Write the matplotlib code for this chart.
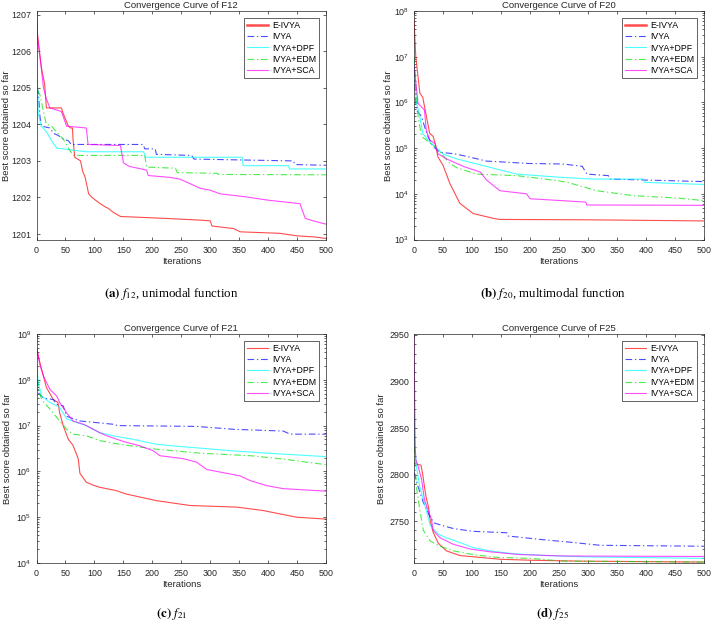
import matplotlib as mpl
import matplotlib.pyplot as plt
import matplotlib.ticker as mticker
import numpy as np


methods = ['E-IVYA', 'IVYA', 'IVYA+DPF', 'IVYA+EDM', 'IVYA+SCA']
colors = ['#ff0000', '#0000ff', '#00ffff', '#00e600', '#ff00ff']
styles = ['-', '-.', '-', '-.', '-']

titles = ['Convergence Curve of F12', 'Convergence Curve of F20',
          'Convergence Curve of F21', 'Convergence Curve of F25']
captions = [r'$\mathbf{(a)}$ $f_{12}$, unimodal function',
            r'$\mathbf{(b)}$ $f_{20}$, multimodal function',
            r'$\mathbf{(c)}$ $f_{21}$',
            r'$\mathbf{(d)}$ $f_{25}$']
xticks = [0, 50, 100, 150, 200, 250, 300, 350, 400, 450, 500]

# ---- F12 (linear) : iteration, best score
f12_eivya_x = [0, 2, 3, 6, 9, 14, 17, 43, 46, 55, 59, 62, 63, 66, 76, 80, 84, 90, 96, 104, 110, 118,
               124, 132, 145, 219, 283, 300, 303, 340, 352, 420, 450, 480, 500]
f12_eivya_y = [1207.1, 1206.4, 1206.3, 1205.85, 1205.5, 1205.1, 1204.45, 1204.45, 1204.3, 1203.95,
               1203.9, 1203.9, 1203.6, 1203.1, 1203.0, 1202.7, 1202.55, 1202.1, 1202.0, 1201.9,
               1201.83, 1201.75, 1201.7, 1201.6, 1201.48, 1201.43, 1201.38, 1201.36, 1201.22,
               1201.15, 1201.06, 1201.02, 1200.95, 1200.92, 1200.88]
f12_ivya_x = [0, 3, 6, 9, 23, 30, 37, 46, 55, 60, 184, 187, 205, 207, 268, 272, 443, 447, 500]
f12_ivya_y = [1205.0, 1204.9, 1204.2, 1203.95, 1203.9, 1203.75, 1203.7, 1203.6, 1203.55, 1203.45,
              1203.45, 1203.33, 1203.33, 1203.18, 1203.15, 1203.05, 1203.0, 1202.9, 1202.88]
f12_dpf_x = [0, 3, 8, 17, 26, 35, 60, 86, 185, 188, 355, 357, 435, 437, 500]
f12_dpf_y = [1206.0, 1204.3, 1203.95, 1203.8, 1203.55, 1203.35, 1203.3, 1203.25, 1203.25, 1203.1,
             1203.1, 1202.87, 1202.87, 1202.78, 1202.78]
f12_edm_x = [0, 3, 6, 10, 17, 26, 37, 46, 55, 63, 187, 190, 240, 243, 312, 314, 500]
f12_edm_y = [1205.3, 1204.9, 1204.8, 1204.5, 1204.0, 1203.95, 1203.75, 1203.6, 1203.35, 1203.15,
             1203.15, 1202.83, 1202.8, 1202.68, 1202.66, 1202.63, 1202.62]
f12_sca_x = [0, 2, 6, 12, 17, 23, 43, 52, 86, 89, 145, 150, 160, 190, 193, 230, 248, 283, 300,
             317, 360, 398, 455, 464, 480, 500]
f12_sca_y = [1207.1, 1206.3, 1205.85, 1205.0, 1204.7, 1204.45, 1204.35, 1203.95, 1203.9, 1203.45,
             1203.42, 1202.95, 1202.85, 1202.75, 1202.6, 1202.55, 1202.5, 1202.25, 1202.2, 1202.1,
             1202.02, 1201.93, 1201.83, 1201.43, 1201.35, 1201.27]

# ---- F20 (log)
f20_eivya_x = [0, 3, 4, 10, 15, 21, 27, 33, 38, 41, 50, 62, 79, 102, 137, 148, 300, 500]
f20_eivya_y = [6.3e7, 1e7, 7.8e6, 1.6e6, 1.3e6, 5.2e5, 2.1e5, 1.8e5, 1.07e5, 6.5e4, 4.2e4, 1.66e4,
               6.2e3, 3.7e3, 2.9e3, 2.75e3, 2.7e3, 2.55e3]
f20_ivya_x = [0, 4, 13, 18, 24, 33, 45, 70, 93, 125, 200, 254, 263, 290, 298, 335, 338, 400, 500]
f20_ivya_y = [5e6, 6.8e5, 4.9e5, 3e5, 1.8e5, 1.07e5, 8.1e4, 7.5e4, 6.5e4, 5.2e4, 4.6e4, 4.5e4,
              4.4e4, 4e4, 2.7e4, 2.5e4, 2.1e4, 2e4, 1.85e4]
f20_dpf_x = [0, 4, 10, 15, 24, 36, 50, 74, 108, 177, 252, 309, 395, 398, 500]
f20_dpf_y = [8e6, 1e6, 4.9e5, 2.1e5, 1.5e5, 1.07e5, 7.4e4, 5.8e4, 4.5e4, 2.7e4, 2.3e4, 2.1e4, 2.1e4,
             1.78e4, 1.6e4]
f20_edm_x = [0, 1, 7, 13, 21, 36, 47, 62, 74, 108, 177, 246, 263, 315, 378, 453, 500]
f20_edm_y = [1e7, 6.3e6, 4.9e5, 1.8e5, 1.5e5, 1.07e5, 7.6e4, 4.6e4, 3.7e4, 2.7e4, 2.5e4, 1.95e4,
             1.8e4, 1.17e4, 9.1e3, 8.1e3, 7.1e3]
f20_sca_x = [0, 7, 18, 21, 27, 36, 41, 56, 87, 114, 125, 148, 194, 200, 296, 298, 500]
f20_sca_y = [6.3e6, 9.5e5, 6.8e5, 2.5e5, 1.5e5, 1.26e5, 7.6e4, 5.8e4, 3.9e4, 3e4, 2e4, 1.17e4,
             1e4, 7.8e3, 6.6e3, 5.7e3, 5.6e3]

# ---- F21 (log)
f21_eivya_x = [0, 6, 12, 17, 29, 37, 40, 46, 55, 63, 72, 75, 78, 86, 98, 109, 138, 155, 207, 265,
               346, 391, 449, 500]
f21_eivya_y = [5e8, 2.3e8, 1.2e8, 6.8e7, 3.7e7, 3.2e7, 1.9e7, 1e7, 5e6, 3.7e6, 1.9e6, 9e5, 8e5,
               5.8e5, 5e5, 4.5e5, 3.8e5, 3.2e5, 2.3e5, 1.8e5, 1.66e5, 1.4e5, 1e5, 9.1e4]
f21_ivya_x = [0, 3, 12, 29, 35, 46, 52, 58, 75, 132, 140, 276, 340, 426, 438, 500]
f21_ivya_y = [2e8, 5.2e7, 4e7, 3.7e7, 2.9e7, 2.7e7, 1.6e7, 1.5e7, 1.26e7, 1.07e7, 1e7, 9.6e6,
              8.3e6, 7.6e6, 6.5e6, 6.5e6]
f21_dpf_x = [0, 3, 9, 23, 40, 52, 69, 86, 109, 132, 167, 207, 236, 340, 398, 500]
f21_dpf_y = [2.5e8, 8.5e7, 4.4e7, 3.2e7, 2.5e7, 1.4e7, 1.17e7, 1e7, 7e6, 6e6, 5e6, 3.9e6, 3.6e6,
             2.8e6, 2.5e6, 2.1e6]
f21_edm_x = [0, 3, 9, 23, 40, 52, 63, 86, 109, 144, 202, 282, 369, 426, 500]
f21_edm_y = [2e8, 6.2e7, 3.7e7, 2.3e7, 1.26e7, 8.3e6, 6.5e6, 6e6, 4.7e6, 3.9e6, 3.1e6, 2.5e6,
             2.2e6, 1.86e6, 1.4e6]
f21_sca_x = [0, 6, 12, 23, 35, 40, 52, 63, 81, 92, 109, 121, 150, 179, 202, 213, 253, 276, 294,
             311, 351, 369, 397, 426, 500]
f21_sca_y = [5e8, 2.1e8, 1.2e8, 6.2e7, 4.4e7, 3.2e7, 1.9e7, 1.26e7, 1.07e7, 9.1e6, 7e6, 6e6,
             4.5e6, 3.6e6, 2.8e6, 2.2e6, 1.9e6, 1.6e6, 1.1e6, 1e6, 8e5, 6.3e5, 4.9e5, 4.2e5, 3.7e5]

# ---- F25 (linear)
f25_eivya_x = [0, 12, 15, 18, 21, 25, 28, 33, 42, 56, 79, 114, 148, 200, 286, 500]
f25_eivya_y = [2812, 2810, 2800, 2787, 2775, 2765, 2750, 2738, 2726, 2718, 2713, 2711, 2709, 2708,
               2707, 2706]
f25_ivya_x = [0, 7, 16, 21, 27, 35, 50, 68, 102, 160, 162, 223, 275, 321, 500]
f25_ivya_y = [2802, 2787, 2770, 2764, 2755, 2748, 2745, 2742, 2739, 2737.5, 2734, 2730, 2727, 2724,
              2723]
f25_dpf_x = [0, 1, 4, 10, 16, 21, 28, 42, 56, 79, 102, 131, 171, 229, 300, 500]
f25_dpf_y = [2866, 2837, 2809, 2787, 2773, 2762, 2745, 2736, 2732, 2727, 2721.5, 2718, 2715, 2713,
             2711.5, 2710]
f25_edm_x = [0, 1, 4, 10, 16, 28, 45, 68, 102, 143, 200, 257, 500]
f25_edm_y = [2830, 2820, 2787, 2762, 2740, 2728.5, 2723, 2718, 2714, 2711, 2710, 2707, 2706]
f25_sca_x = [0, 2, 3, 7, 13, 18, 24, 30, 33, 45, 68, 97, 131, 183, 260, 500]
f25_sca_y = [2951, 2830, 2816, 2809, 2795, 2773, 2762, 2752, 2740, 2732, 2725, 2720, 2717, 2714,
             2712.5, 2712]


def setup():
    plt.rcParams['font.family'] = ['Liberation Sans', 'DejaVu Sans']
    plt.rcParams['mathtext.fontset'] = 'custom'
    plt.rcParams['mathtext.rm'] = 'Liberation Sans'
    plt.rcParams['mathtext.it'] = 'Liberation Sans:italic'
    plt.rcParams['axes.linewidth'] = 0.5
    plt.rcParams['axes.edgecolor'] = '#262626'


def style_axes(ax, title, log, ylim, ylab_x, thick_legend):
    ax.set_xlim(0, 500)
    ax.set_xticks(xticks)
    if log:
        ax.set_yscale('log')
        ax.yaxis.set_minor_formatter(mticker.NullFormatter())
    else:
        ax.yaxis.set_minor_locator(mticker.AutoMinorLocator(5) if ylim[1] > 2000 else mticker.NullLocator())
    ax.set_ylim(*ylim)
    ax.tick_params(which='both', direction='in', top=True, right=True, width=0.5,
                   colors='#262626', labelsize=6.4, pad=3.5)
    ax.tick_params(which='major', length=2.4)
    ax.tick_params(which='minor', length=1.3)
    ax.tick_params(axis='x', pad=4.5)
    ax.set_title(title, fontsize=6.8, pad=1.8, color='#262626')
    ax.set_xlabel('Iterations', fontsize=6.8, color='#262626')
    ax.set_ylabel('Best score obtained so far', fontsize=6.8, color='#262626')
    ax.xaxis.set_label_coords(0.5, -0.075)
    ax.yaxis.set_label_coords(ylab_x, 0.5)
    leg = ax.legend(loc='upper right', fontsize=6.3, frameon=True, fancybox=False,
                    edgecolor='#262626', framealpha=1, borderpad=0.35, labelspacing=0.28,
                    handlelength=2.4, handletextpad=0.45, borderaxespad=0.75)
    leg.get_frame().set_linewidth(0.5)
    if thick_legend:
        leg.get_lines()[0].set_linewidth(1.8)


def main():
    setup()
    fig = plt.figure(figsize=(7.12, 6.21), dpi=100)

    panels = [
        ([(f12_eivya_x, f12_eivya_y), (f12_ivya_x, f12_ivya_y), (f12_dpf_x, f12_dpf_y),
          (f12_edm_x, f12_edm_y), (f12_sca_x, f12_sca_y)], False, (1200.85, 1207.1)),
        ([(f20_eivya_x, f20_eivya_y), (f20_ivya_x, f20_ivya_y), (f20_dpf_x, f20_dpf_y),
          (f20_edm_x, f20_edm_y), (f20_sca_x, f20_sca_y)], True, (1e3, 1e8)),
        ([(f21_eivya_x, f21_eivya_y), (f21_ivya_x, f21_ivya_y), (f21_dpf_x, f21_dpf_y),
          (f21_edm_x, f21_edm_y), (f21_sca_x, f21_sca_y)], True, (1e4, 1e9)),
        ([(f25_eivya_x, f25_eivya_y), (f25_ivya_x, f25_ivya_y), (f25_dpf_x, f25_dpf_y),
          (f25_edm_x, f25_edm_y), (f25_sca_x, f25_sca_y)], False, (2705, 2951)),
    ]
    rects = [[0.0513, 0.6143, 0.4066, 0.368], [0.5815, 0.6143, 0.4073, 0.368],
             [0.0513, 0.0934, 0.4066, 0.3688], [0.5815, 0.0934, 0.4073, 0.3688]]
    ylab_x = [-0.088, -0.072, -0.085, -0.095]

    for i, (series, log, ylim) in enumerate(panels):
        ax = fig.add_axes(rects[i])
        for (x, y), name, c, ls in zip(series, methods, colors, styles):
            if ls == '-.':
                ax.plot(x, y, color=c, lw=0.8, alpha=0.7, label=name,
                        linestyle=(0, (6, 2.5, 1.2, 2.5)))
            else:
                ax.plot(x, y, color=c, lw=0.8, alpha=0.7, label=name, linestyle=ls)
        style_axes(ax, titles[i], log, ylim, ylab_x[i], i < 2)

    cap_x = [0.241, 0.776, 0.241, 0.776]
    cap_y = [0.522, 0.522, 0.0064, 0.0064]
    for i in range(4):
        fig.text(cap_x[i], cap_y[i], captions[i], ha='center', va='baseline', fontsize=9.3,
                 family='Liberation Serif', math_fontfamily='stix', color='black')

    fig.savefig('out.png', dpi=100)


if __name__ == '__main__':
    main()
